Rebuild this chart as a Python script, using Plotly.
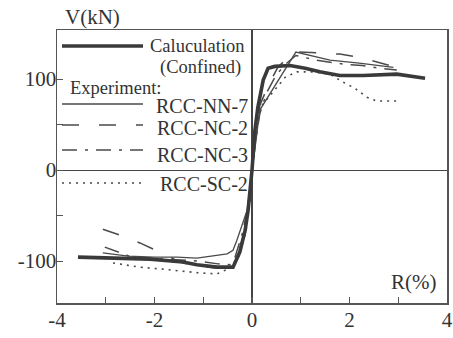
import plotly.graph_objects as go

# ---- data (R in %, V in kN) ----
calc_R = [-3.57, -2.91, -2.09, -1.42, -1.13, -0.72, -0.39, -0.25, -0.14, -0.08, 0.0,
          0.06, 0.12, 0.23, 0.33, 0.47, 0.78, 1.09, 1.39, 1.8, 2.28, 2.97, 3.55]
calc_V = [-95.6, -96.7, -97.8, -101, -104, -106.6, -106.6, -90, -66, -44, 0,
          44, 69, 99, 112, 114, 115, 112, 108, 104, 104, 105.5, 101]

nn7_R = [-3.06, -2.54, -2.0, -1.54, -1.13, -0.51, -0.39, -0.31, -0.1, 0.0,
         0.08, 0.16, 0.9, 1.19, 1.6, 2.2, 2.9]
nn7_V = [-91, -94.5, -95.6, -95.6, -96.7, -92, -88, -77, -44, 0,
         33, 66, 129.7, 126, 121, 117.6, 113]

nc2_R = [-3.06, -2.65, -2.3, -1.89, -1.48, -1.13, -0.66, -0.41, -0.25, -0.08, 0.0,
         0.08, 0.16, 0.33, 0.53, 0.78, 0.92, 1.46, 1.8, 2.2, 2.56, 2.97]
nc2_V = [-65, -72.5, -80, -90, -101, -105.5, -107.7, -105.5, -88, -44, 0,
         38, 71, 93, 113, 126, 130, 128.6, 127.5, 124, 118.7, 113]

nc3_R = [-3.02, -2.75, -2.46, -2.0, -1.5, -1.1, -0.7, -0.45, -0.35, -0.2, -0.08, 0.0,
         0.08, 0.16, 0.3, 0.5, 0.7, 0.9, 1.3, 1.87, 2.26, 2.63, 2.97]
nc3_V = [-84.6, -90, -95.6, -97, -99, -100, -103, -104, -96, -70, -40, 0,
         35, 62, 85, 105, 117, 126, 121, 116.5, 115, 112, 110]

sc2_R = [-2.85, -2.3, -1.83, -1.42, -1.07, -0.72, -0.45, -0.25, -0.12, -0.04, 0.0,
         0.06, 0.12, 0.2, 0.33, 0.51, 0.68, 0.92, 1.25, 1.6, 1.87, 2.11, 2.36, 2.56, 2.97]
sc2_V = [-102, -106.6, -108.8, -111, -113, -114, -107.7, -93, -66, -33, 0,
         33, 55, 71, 79, 91, 102, 108, 108, 105.5, 96.7, 90, 80, 76, 76]

x_tickvals = [-4, -3, -2, -1, 0, 1, 2, 3, 4]
x_ticktext = ["-4", "", "-2", "", "0", "", "2", "", "4"]
y_tickvals = [-100, -50, 0, 50, 100]
y_ticktext = ["-100", "", "0", "", "100"]

legend_names = ["RCC-NN-7", "RCC-NC-2", "RCC-NC-3", "RCC-SC-2"]

# ---- styles ----
INK = "#3a3a3a"
TXT = "#333333"
FONT = "'Liberation Serif', 'Times New Roman', 'DejaVu Serif', serif"
DASH_NC2 = "17px,20px"
DASH_NC3 = "15px,8px,3px,8px"
DASH_SC2 = "2px,5px"

W, H = 453, 338
L, R_, T, B = 57, 6, 30, 35
PW, PH = W - L - R_, H - T - B


def px(x):
    return (x - L) / PW


def py(y):
    return (H - B - y) / PH


fig = go.Figure()
series = [
    (nn7_R, nn7_V, dict(color="#4a4a4a", width=1.3, dash="solid")),
    (nc2_R, nc2_V, dict(color="#4a4a4a", width=1.5, dash=DASH_NC2)),
    (nc3_R, nc3_V, dict(color="#4a4a4a", width=1.5, dash=DASH_NC3)),
    (sc2_R, sc2_V, dict(color="#4a4a4a", width=1.6, dash=DASH_SC2)),
    (calc_R, calc_V, dict(color=INK, width=3.6, dash="solid")),
]
for xs, ys, ln in series:
    fig.add_trace(go.Scatter(x=xs, y=ys, mode="lines", line=ln, showlegend=False,
                             hoverinfo="skip"))

shapes = []
annotations = []

# legend samples
samples = [
    (46, dict(color=INK, width=3.6)),
    (104, dict(color="#4a4a4a", width=1.3)),
    (125, dict(color="#4a4a4a", width=1.5, dash=DASH_NC2)),
    (150, dict(color="#4a4a4a", width=1.5, dash=DASH_NC3)),
    (183, dict(color="#4a4a4a", width=1.6, dash=DASH_SC2)),
]
for yy, ln in samples:
    shapes.append(dict(type="line", xref="paper", yref="paper",
                       x0=px(62), x1=px(143), y0=py(yy), y1=py(yy), line=ln))

def txt(text, x, y, size, xanchor="right"):
    annotations.append(dict(text=text, x=px(x), y=py(y), xref="paper", yref="paper",
                            xanchor=xanchor, yanchor="middle", showarrow=False,
                            borderpad=0,
                            font=dict(family=FONT, size=size, color=TXT)))

txt("Caluculation", 246, 46, 18.5)
txt("(Confined)", 242, 68, 18.5)
txt("Experiment:", 69, 88, 18.5, xanchor="left")
for name, yy in zip(legend_names, [106, 128, 155, 184]):
    txt(name, 249, yy, 20)

txt("V(kN)", 64, 17, 21, xanchor="left")
txt("R(%)", 438, 282, 21)

fig.update_layout(
    width=W, height=H,
    margin=dict(l=L, r=R_, t=T, b=B, autoexpand=False),
    paper_bgcolor="white", plot_bgcolor="white",
    shapes=shapes, annotations=annotations,
    font=dict(family=FONT, size=21, color=TXT),
)
fig.update_xaxes(range=[-4, 4], tickvals=x_tickvals, ticktext=x_ticktext,
                 ticks="inside", ticklen=6, tickcolor="#555", tickwidth=1.2,
                 showline=True, mirror=True, linecolor="#555", linewidth=1.5,
                 showgrid=False, zeroline=True, zerolinecolor="#444", zerolinewidth=1.2,
                 automargin=False, ticklabelstandoff=-3,
                 tickfont=dict(family=FONT, size=21, color=TXT))
fig.update_yaxes(range=[-146, 154], tickvals=y_tickvals, ticktext=y_ticktext,
                 ticks="inside", ticklen=6, tickcolor="#555", tickwidth=1.2,
                 showline=True, mirror=True, linecolor="#555", linewidth=1.5,
                 showgrid=False, zeroline=True, zerolinecolor="#444", zerolinewidth=1.2,
                 automargin=False, ticklabelstandoff=-5,
                 tickfont=dict(family=FONT, size=21, color=TXT))

fig.write_html("out.html",
               config={"displayModeBar": False, "staticPlot": True},
               post_script="document.body.style.margin='0';document.body.style.padding='0';")
